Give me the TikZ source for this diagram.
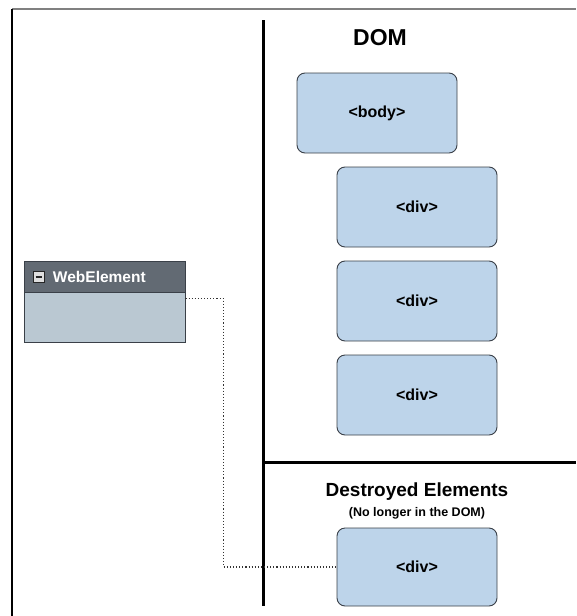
\documentclass[tikz,border=0pt]{standalone}
\usepackage{fontspec}
\setmainfont{Liberation Sans}
\usetikzlibrary{positioning}
\definecolor{boxblue}{HTML}{BDD4EA}
\definecolor{headgray}{HTML}{626A73}
\definecolor{bodygray}{HTML}{BAC8D2}
\definecolor{edgegray}{HTML}{3A4048}

\begin{document}
\begin{tikzpicture}[
    x=1pt, y=-1pt,
    tag/.style={draw=edgegray, fill=boxblue, rounded corners=8pt, line width=0.9pt,
      minimum width=160pt, minimum height=80pt, font=\bfseries\fontsize{16}{19}\selectfont},
    title/.style={font=\bfseries\fontsize{19}{22}\selectfont},
    link/.style={draw=black!80, dotted, line width=1.1pt}
  ]
  \useasboundingbox (0,0) rectangle (576,616);

  % Frame
  \draw[gray, line width=2.2pt] (12,9) -- (576,9);
  \draw[line width=2pt] (12,9) -- (12,616);
  \draw[line width=3pt] (263,20) -- (263,606);
  \draw[line width=3pt] (263,462) -- (576,462);

  % DOM
  \node[font=\bfseries\fontsize{23}{27}\selectfont] (dom) at (380,38) {DOM};
  \node[tag] (body) at (377,113) {<body>};
  \node[tag] (divA) at (417,207) {<div>};
  \node[tag] (divB) at (417,301) {<div>};
  \node[tag] (divC) at (417,395) {<div>};

  % Destroyed
  \node[title] (destroyed) at (417,492) {Destroyed Elements};
  \node[font=\bfseries\fontsize{12.5}{15}\selectfont] (nolonger) at (417,513) {(No longer in the DOM)};
  \node[tag, minimum height=78pt] (gone) at (417,567) {<div>};

  % WebElement
  \node[draw=edgegray, fill=headgray, minimum width=161pt, minimum height=31pt, line width=0.8pt] (webhead) at (104.5,276.5) {};
  \node[draw=edgegray, fill=bodygray, minimum width=161pt, minimum height=50pt, line width=0.8pt, below=0pt of webhead] (webbody) {};
  \node[draw=black!85, fill=gray!25, minimum size=11pt, inner sep=0pt, line width=0.9pt] (minus) at (38.5,277) {};
  \draw[black!85, line width=1.6pt] ([xshift=-3pt]minus.center) -- ([xshift=3pt]minus.center);
  \node[right=5pt of minus, text=white, font=\bfseries\fontsize{15.5}{18}\selectfont] (webname) {WebElement};

  % Reference
  \draw[link] ([yshift=-6pt]webbody.north east) -- ++(38,0) |- (gone.west);
\end{tikzpicture}
\end{document}
